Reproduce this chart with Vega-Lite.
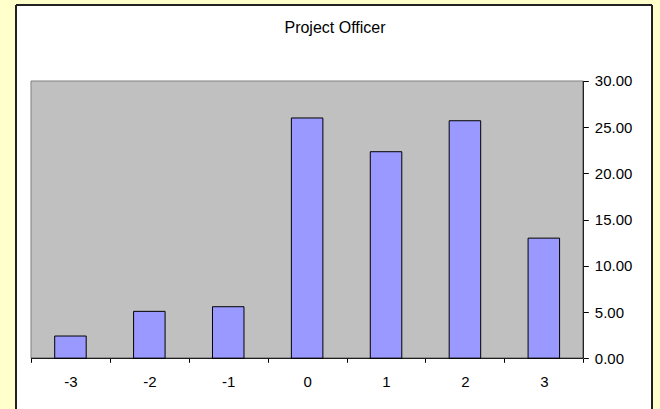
{
  "$schema": "https://vega.github.io/schema/vega-lite/v6.json",
  "width": 636,
  "height": 404,
  "autosize": {"type": "none"},
  "padding": {"left": 16, "top": 5, "right": 8, "bottom": 0},
  "background": "#FFFFCC",
  "config": {
    "view": {"fill": "#FFFFFF", "stroke": null},
    "font": "Liberation Sans",
    "scale": {"continuousPadding": 0}
  },
  "layer": [
    {
      "data": {"values": [{}]},
      "mark": {"type": "rect", "fill": "#C0C0C0", "stroke": "#808080", "strokeWidth": 1},
      "encoding": {
        "x": {
          "datum": -3.5,
          "type": "quantitative",
          "scale": {"domain": [-3.69, 4.371], "nice": false, "zero": false, "padding": 0},
          "axis": {
            "orient": "bottom",
            "offset": -50.7,
            "values": [-3.5, -2.5, -1.5, -0.5, 0.5, 1.5, 2.5, 3.5],
            "labelExpr": "datum.value < 3 ? '' + (datum.value + 0.5) : ''",
            "labelOffset": 39.45,
            "labelOverlap": false,
            "labelFlush": false,
            "labelBound": false,
            "domain": false,
            "grid": false,
            "tickSize": 4,
            "tickColor": "#000000",
            "tickWidth": 1,
            "labelPadding": 12,
            "labelFontSize": 15,
            "labelColor": "#000000",
            "labelFont": "Liberation Sans",
            "title": null
          }
        },
        "x2": {"datum": 3.5},
        "y": {
          "datum": 0,
          "type": "quantitative",
          "scale": {"domain": [-5.485, 38.222], "nice": false, "zero": false, "padding": 0},
          "axis": {
            "orient": "right",
            "offset": -68.7,
            "values": [0, 5, 10, 15, 20, 25, 30],
            "format": ".2f",
            "domain": false,
            "grid": false,
            "tickSize": 5,
            "tickColor": "#000000",
            "tickWidth": 1,
            "labelPadding": 6,
            "labelFontSize": 15,
            "labelColor": "#000000",
            "labelFont": "Liberation Sans",
            "labelOverlap": false,
            "labelFlush": false,
            "title": null
          }
        },
        "y2": {"datum": 30}
      }
    },
    {
      "data": {
        "values": [
          {"level": -3, "value": 2.41},
          {"level": -2, "value": 5.08},
          {"level": -1, "value": 5.58},
          {"level": 0, "value": 26.0},
          {"level": 1, "value": 22.35},
          {"level": 2, "value": 25.7},
          {"level": 3, "value": 13.0}
        ]
      },
      "mark": {"type": "bar", "width": 31.5, "fill": "#9999FF", "stroke": "#000000", "strokeWidth": 1},
      "encoding": {
        "x": {"field": "level", "type": "quantitative"},
        "y": {"field": "value", "type": "quantitative"},
        "y2": {"datum": 0}
      }
    },
    {
      "data": {"values": [{}]},
      "mark": {"type": "rule", "stroke": "#000000", "strokeWidth": 1},
      "encoding": {
        "x": {"datum": 3.5, "type": "quantitative"},
        "y": {"datum": 0, "type": "quantitative"},
        "y2": {"datum": 30}
      }
    },
    {
      "data": {"values": [{}]},
      "mark": {"type": "rule", "stroke": "#000000", "strokeWidth": 1},
      "encoding": {
        "x": {"datum": -3.5, "type": "quantitative"},
        "x2": {"datum": 3.5},
        "y": {"datum": 0, "type": "quantitative"}
      }
    },
    {
      "data": {"values": [{}]},
      "mark": {"type": "rule", "stroke": "#222222", "strokeWidth": 2},
      "encoding": {
        "x": {"datum": -3.69, "type": "quantitative"},
        "y": {"datum": -5.485, "type": "quantitative"},
        "y2": {"datum": 38.222}
      }
    },
    {
      "data": {"values": [{}]},
      "mark": {"type": "rule", "stroke": "#222222", "strokeWidth": 2},
      "encoding": {
        "x": {"datum": 4.371, "type": "quantitative"},
        "y": {"datum": -5.485, "type": "quantitative"},
        "y2": {"datum": 38.222}
      }
    },
    {
      "data": {"values": [{}]},
      "mark": {"type": "rule", "stroke": "#222222", "strokeWidth": 2},
      "encoding": {
        "x": {"datum": -3.69, "type": "quantitative"},
        "x2": {"datum": 4.371},
        "y": {"datum": 38.222, "type": "quantitative"}
      }
    },
    {
      "data": {"values": [{}]},
      "mark": {"type": "text", "text": "Project Officer", "fontSize": 16, "font": "Liberation Sans", "color": "#000000", "align": "center", "baseline": "alphabetic"},
      "encoding": {
        "x": {"datum": 0.353, "type": "quantitative"},
        "y": {"datum": 35.19, "type": "quantitative"}
      }
    }
  ]
}
